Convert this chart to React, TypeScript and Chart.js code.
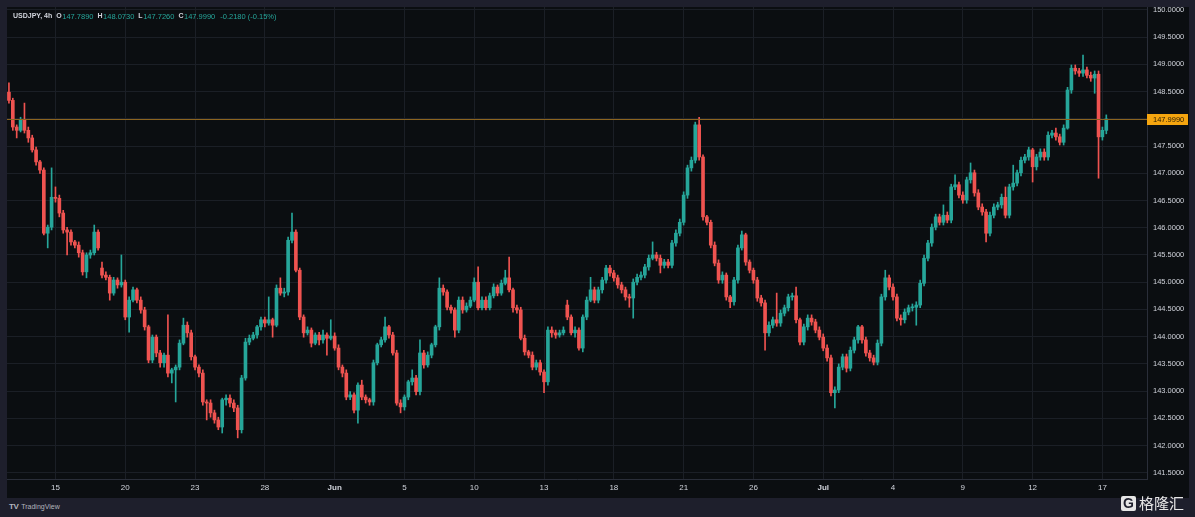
import React, { useEffect, useRef } from 'react';
import { Chart, registerables } from 'chart.js';

Chart.register(...registerables);

// ---- Data (USDJPY, 4h candles) ----
const OPEN = [
  148.49,148.34,147.85,147.79,147.98,147.79,147.65,147.43,147.21,147.06,
  145.90,146.01,146.56,146.54,146.27,145.96,145.92,145.74,145.68,145.54,
  145.19,145.50,145.54,145.92,145.26,145.13,145.09,144.80,145.04,144.95,
  145.00,144.36,144.67,144.86,144.67,144.49,144.18,143.57,143.99,143.70,
  143.52,143.66,143.33,143.39,143.44,143.88,144.21,144.07,143.63,143.44,
  143.33,142.80,142.78,142.60,142.47,142.34,142.84,142.87,142.78,142.69,
  142.29,143.24,143.90,143.97,144.03,144.18,144.31,144.25,144.31,144.21,
  144.89,144.80,144.82,145.77,145.92,145.22,144.36,144.07,144.12,143.88,
  144.03,143.94,144.03,143.97,144.01,143.79,143.44,143.33,142.89,142.93,
  142.65,143.11,142.89,142.84,142.80,143.52,143.85,143.94,144.18,144.03,
  143.70,142.78,142.71,142.89,143.17,143.24,142.99,143.70,143.48,143.66,
  143.85,144.18,144.89,144.82,144.54,144.49,144.12,144.67,144.49,144.56,
  144.67,145.00,144.53,144.67,144.53,144.75,144.91,144.80,144.98,145.08,
  144.86,144.53,144.49,143.97,143.72,143.66,143.44,143.52,143.35,143.17,
  144.12,144.07,144.03,144.07,144.58,144.36,144.07,144.12,143.79,144.36,
  144.67,144.86,144.67,144.86,145.04,145.26,145.17,145.08,144.95,144.86,
  144.73,144.71,145.00,145.09,145.13,145.28,145.44,145.50,145.44,145.31,
  145.37,145.31,145.72,145.90,146.10,146.60,147.10,147.24,147.89,147.30,
  146.20,146.10,145.68,145.35,145.04,145.13,144.73,144.64,145.04,145.63,
  145.87,145.37,145.22,145.04,144.71,144.62,144.07,144.21,144.31,144.25,
  144.43,144.53,144.73,144.75,144.31,143.90,144.18,144.34,144.27,144.12,
  143.99,143.79,143.61,142.97,143.02,143.44,143.63,143.42,143.75,143.94,
  144.18,143.94,143.70,143.61,143.53,143.88,144.73,145.08,144.91,144.73,
  144.34,144.31,144.45,144.53,144.54,144.58,144.98,145.44,145.72,146.01,
  146.20,146.10,146.23,146.14,146.75,146.79,146.60,146.51,146.88,147.01,
  146.64,146.38,146.29,145.90,146.23,146.38,146.42,146.56,146.23,146.75,
  146.82,147.01,147.24,147.30,147.43,147.12,147.30,147.39,147.30,147.70,
  147.74,147.67,147.57,147.83,148.53,148.93,148.88,148.84,148.90,148.80,
  148.75,148.82,147.67,147.789,
];

const HIGH = [
  148.66,148.38,147.89,148.03,148.29,147.85,147.70,147.48,147.24,147.10,
  146.05,147.10,146.75,146.60,146.32,146.01,145.96,145.77,145.74,145.59,
  145.54,145.59,146.05,145.96,145.37,145.19,145.13,145.09,145.08,145.50,
  145.04,144.73,144.91,144.89,144.73,144.54,144.21,144.03,144.03,143.75,
  143.70,144.40,143.42,143.48,143.94,144.34,144.27,144.12,143.66,143.48,
  143.39,142.84,142.84,142.65,142.52,142.87,142.93,142.93,142.84,142.74,
  143.29,143.97,144.03,144.08,144.21,144.36,144.36,144.73,144.34,144.95,
  145.08,144.89,145.83,146.27,145.96,145.26,144.40,144.18,144.16,144.07,
  144.08,144.12,144.07,144.31,144.07,143.85,143.48,143.39,142.99,142.97,
  143.15,143.20,142.93,142.87,143.57,143.88,143.99,144.36,144.21,144.08,
  143.75,142.84,142.93,143.20,143.39,143.29,143.94,143.75,143.72,143.88,
  144.21,145.08,144.95,144.86,144.58,144.53,144.73,144.73,144.62,144.73,
  145.08,145.28,144.73,144.73,144.80,144.97,144.95,145.04,145.22,145.46,
  144.89,144.58,144.54,144.03,143.75,143.72,143.57,143.57,143.39,144.18,
  144.18,144.12,144.12,144.18,144.67,144.40,144.18,144.16,144.40,144.73,
  145.09,144.91,144.91,145.09,145.31,145.31,145.22,145.13,145.00,144.91,
  144.78,145.06,145.15,145.19,145.33,145.50,145.74,145.55,145.50,145.42,
  145.42,145.77,145.96,146.16,146.66,147.15,147.30,147.94,148.03,147.34,
  146.23,146.14,145.74,145.41,145.19,145.17,144.76,145.09,145.68,145.94,
  145.90,145.41,145.26,145.09,144.76,144.67,144.27,144.36,144.80,144.49,
  144.58,144.78,144.80,144.91,144.34,144.23,144.40,144.40,144.32,144.18,
  144.05,143.85,143.66,143.08,143.50,143.68,143.68,143.81,143.99,144.21,
  144.21,143.99,143.75,143.66,143.94,144.78,145.22,145.13,144.97,144.78,
  144.40,144.51,144.58,144.60,144.64,145.04,145.50,145.77,146.07,146.25,
  146.25,146.42,146.29,146.80,146.97,146.84,146.66,146.93,147.19,147.06,
  146.70,146.44,146.34,146.29,146.44,146.47,146.62,146.75,146.80,147.15,
  147.06,147.30,147.35,147.48,147.46,147.35,147.45,147.45,147.76,147.79,
  147.83,147.72,147.89,148.58,148.99,148.99,148.93,149.17,148.95,148.86,
  148.88,148.88,147.85,148.073,
];

const LOW = [
  148.29,147.79,147.65,147.76,147.74,147.57,147.39,147.15,147.00,145.87,
  145.63,145.96,146.47,146.20,145.90,145.50,145.68,145.63,145.46,145.13,
  145.08,145.44,145.50,145.59,145.08,145.04,144.67,144.76,144.89,144.91,
  144.31,144.08,144.64,144.62,144.43,144.12,143.52,143.52,143.63,143.44,
  143.44,143.26,143.15,142.80,143.39,143.85,143.99,143.57,143.39,143.26,
  142.74,142.47,142.52,142.41,142.29,142.23,142.74,142.71,142.62,142.14,
  142.23,143.20,143.85,143.94,143.97,144.12,144.18,144.21,143.99,144.18,
  144.76,144.73,144.76,145.72,145.19,144.31,143.99,144.03,143.81,143.85,
  143.85,143.88,143.66,143.94,143.75,143.39,143.26,142.84,142.84,142.60,
  142.41,142.84,142.78,142.74,142.74,143.48,143.81,143.90,143.97,143.66,
  142.74,142.60,142.65,142.84,143.11,142.93,142.93,143.42,143.44,143.61,
  143.81,144.12,144.76,144.49,144.43,143.99,144.07,144.43,144.45,144.53,
  144.64,144.49,144.49,144.49,144.49,144.71,144.75,144.76,144.95,144.82,
  144.45,144.43,143.94,143.66,143.61,143.39,143.39,143.29,142.97,143.11,
  143.99,143.97,143.99,144.03,144.31,144.03,143.99,143.75,143.72,144.31,
  144.64,144.62,144.62,144.80,144.98,145.11,145.02,144.89,144.80,144.67,
  144.54,144.34,144.95,145.04,145.08,145.22,145.41,145.39,145.17,145.26,
  145.26,145.26,145.66,145.85,146.05,146.54,147.04,147.19,147.24,146.14,
  146.05,145.63,145.30,144.98,144.98,144.67,144.53,144.58,144.98,145.59,
  145.31,145.17,144.98,144.65,144.56,143.75,144.01,144.16,144.19,144.19,
  144.38,144.47,144.67,144.25,143.85,143.85,144.12,144.21,144.07,143.94,
  143.74,143.55,142.91,142.69,142.97,143.39,143.35,143.37,143.70,143.88,
  143.88,143.64,143.55,143.48,143.48,143.83,144.67,144.86,144.67,144.29,
  144.21,144.25,144.40,144.47,144.21,144.53,144.93,145.39,145.66,145.96,
  146.05,146.05,146.09,146.09,146.70,146.55,146.45,146.45,146.82,146.58,
  146.33,146.23,145.74,145.85,146.18,146.33,146.36,146.18,146.18,146.69,
  146.77,146.95,147.19,147.24,146.84,147.06,147.24,147.24,147.24,147.65,
  147.61,147.52,147.52,147.81,148.47,148.82,148.78,148.78,148.75,148.69,
  148.47,146.91,147.61,147.726,
];

const CLOSE = [
  148.34,147.85,147.79,147.98,147.79,147.65,147.43,147.21,147.06,145.90,
  146.01,146.56,146.54,146.27,145.96,145.92,145.74,145.68,145.54,145.19,
  145.50,145.54,145.92,145.63,145.13,145.09,144.80,145.04,144.95,145.00,
  144.36,144.67,144.86,144.67,144.49,144.18,143.57,143.99,143.70,143.52,
  143.66,143.33,143.39,143.44,143.88,144.21,144.07,143.63,143.44,143.33,
  142.80,142.78,142.60,142.47,142.34,142.84,142.87,142.78,142.69,142.29,
  143.24,143.90,143.97,144.03,144.18,144.31,144.25,144.31,144.21,144.89,
  144.80,144.82,145.77,145.92,145.22,144.36,144.07,144.12,143.88,144.03,
  143.94,144.03,143.97,144.01,143.79,143.44,143.33,142.89,142.93,142.65,
  143.11,142.89,142.84,142.80,143.52,143.85,143.94,144.18,144.03,143.70,
  142.78,142.71,142.89,143.17,143.24,142.99,143.70,143.48,143.66,143.85,
  144.18,144.89,144.82,144.54,144.49,144.12,144.67,144.49,144.56,144.67,
  145.00,144.53,144.67,144.53,144.75,144.91,144.80,144.98,145.08,144.86,
  144.53,144.49,143.97,143.72,143.66,143.44,143.52,143.35,143.17,144.12,
  144.07,144.03,144.07,144.12,144.36,144.07,144.12,143.79,144.36,144.67,
  144.86,144.67,144.86,145.04,145.26,145.17,145.08,144.95,144.86,144.73,
  144.71,145.00,145.09,145.13,145.28,145.44,145.50,145.44,145.31,145.37,
  145.31,145.72,145.90,146.10,146.60,147.10,147.24,147.89,147.30,146.20,
  146.10,145.68,145.35,145.04,145.13,144.73,144.64,145.04,145.63,145.87,
  145.37,145.22,145.04,144.71,144.62,144.07,144.21,144.31,144.25,144.43,
  144.53,144.73,144.75,144.31,143.90,144.18,144.34,144.27,144.12,143.99,
  143.79,143.61,142.97,143.02,143.44,143.63,143.42,143.75,143.94,144.18,
  143.94,143.70,143.61,143.53,143.88,144.73,145.08,144.91,144.73,144.34,
  144.31,144.45,144.53,144.54,144.58,144.98,145.44,145.72,146.01,146.20,
  146.10,146.23,146.14,146.75,146.79,146.60,146.51,146.88,147.01,146.64,
  146.38,146.29,145.90,146.23,146.38,146.42,146.56,146.23,146.75,146.82,
  147.01,147.24,147.30,147.43,147.12,147.30,147.39,147.30,147.70,147.74,
  147.67,147.57,147.83,148.53,148.93,148.88,148.84,148.90,148.80,148.75,
  148.82,147.67,147.79,147.999,
];

// Time-axis labels: candle index -> text
const X_LABEL_INDEX = [12, 30, 48, 66, 84, 102, 120, 138, 156, 174, 192, 210, 228, 246, 264, 282];
const X_LABEL_TEXT = ['15', '20', '23', '28', 'Jun', '5', '10', '13', '18', '21', '26', 'Jul', '4', '9', '12', '17'];
const MONTH_LABELS = ['Jun', 'Jul'];

const PRICE_TICKS = [141.5, 142, 142.5, 143, 143.5, 144, 144.5, 145, 145.5, 146, 146.5, 147, 147.5, 148, 148.5, 149, 149.5, 150];
const Y_MIN = 141.385;
const Y_MAX = 150.055;
const LAST_PRICE = 147.999;
const RIGHT_EMPTY_SLOTS = 10;

const LEGEND_SYMBOL = 'USDJPY, 4h';
const LEGEND_ITEMS = [
  { key: 'O', value: '147.7890' },
  { key: 'H', value: '148.0730' },
  { key: 'L', value: '147.7260' },
  { key: 'C', value: '147.9990' },
];
const LEGEND_CHANGE = '-0.2180 (-0.15%)';

// ---- Styles ----
const UP = '#26a69a';
const DOWN = '#ef5350';
const BG = '#0b0e11';
const FRAME = '#1e1f2c';
const GRID = '#1b1f26';
const AXIS_LINE = '#2a2e39';
const TEXT = '#d1d4dc';
const PRICE_LINE = '#8c6420';
const FONT = '"Liberation Sans", Arial, sans-serif';

export default function App() {
  const ref = useRef<HTMLCanvasElement | null>(null);

  useEffect(() => {
    document.body.style.margin = '0';
    const canvas = ref.current;
    if (!canvas) return;
    const n = CLOSE.length;
    const labels = Array.from({ length: n + RIGHT_EMPTY_SLOTS }, (_, i) => String(i));
    const colors = CLOSE.map((c, i) => (c >= OPEN[i] ? UP : DOWN));
    const bodies = CLOSE.map((c, i) => [Math.min(OPEN[i], c), Math.max(OPEN[i], c)]);
    const wicks = CLOSE.map((_, i) => [LOW[i], HIGH[i]]);
    const labelMap = new Map<number, string>();
    X_LABEL_INDEX.forEach((k, j) => labelMap.set(k, X_LABEL_TEXT[j]));

    const zeroPad = (s: any) => {
      s.paddingTop = 0;
      s.paddingBottom = 0;
      s.paddingLeft = 0;
      s.paddingRight = 0;
    };

    const bgPlugin = {
      id: 'bgFill',
      beforeDraw(chart: any) {
        const { ctx, width, height } = chart;
        ctx.save();
        ctx.fillStyle = BG;
        ctx.fillRect(0, 0, width, height);
        ctx.restore();
      },
    };

    const overlayPlugin = {
      id: 'overlay',
      afterDatasetsDraw(chart: any) {
        const { ctx, chartArea, scales } = chart;
        const y = Math.round(scales.y.getPixelForValue(LAST_PRICE)) + 0.5;
        ctx.save();
        ctx.strokeStyle = PRICE_LINE;
        ctx.lineWidth = 1;
        ctx.beginPath();
        ctx.moveTo(chartArea.left, y);
        ctx.lineTo(chartArea.right, y);
        ctx.stroke();
        ctx.restore();
      },
      afterDraw(chart: any) {
        const { ctx, chartArea, scales, width } = chart;
        const y = Math.round(scales.y.getPixelForValue(LAST_PRICE));
        ctx.save();
        // last price label
        ctx.fillStyle = '#f5a50f';
        ctx.fillRect(chartArea.right, y - 5, width - chartArea.right - 1, 11);
        ctx.fillStyle = '#2a1c04';
        ctx.font = `7.5px ${FONT}`;
        ctx.textBaseline = 'middle';
        ctx.textAlign = 'left';
        ctx.fillText(LAST_PRICE.toFixed(4), chartArea.right + 6, y + 0.5);

        // legend (flowing text)
        const ly = 9.5;
        let x = 6;
        ctx.font = `bold 7px ${FONT}`;
        ctx.fillStyle = TEXT;
        ctx.fillText(LEGEND_SYMBOL, x, ly);
        x += ctx.measureText(LEGEND_SYMBOL).width + 4;
        LEGEND_ITEMS.forEach((it) => {
          ctx.font = `bold 7px ${FONT}`;
          ctx.fillStyle = TEXT;
          ctx.fillText(it.key, x, ly);
          x += ctx.measureText(it.key).width + 0.5;
          ctx.font = `7.5px ${FONT}`;
          ctx.fillStyle = UP;
          ctx.fillText(it.value, x, ly);
          x += ctx.measureText(it.value).width + 4;
        });
        ctx.font = `7.5px ${FONT}`;
        ctx.fillStyle = UP;
        ctx.fillText(LEGEND_CHANGE, x + 1, ly);
        ctx.restore();
      },
    };

    const chart = new Chart(canvas, {
      type: 'bar',
      data: {
        labels,
        datasets: [
          {
            data: bodies as any,
            backgroundColor: colors,
            borderWidth: 0,
            barThickness: 3,
            minBarLength: 1,
            grouped: false,
          } as any,
          {
            data: wicks as any,
            backgroundColor: colors,
            borderWidth: 0,
            barThickness: 1,
            grouped: false,
          } as any,
        ],
      },
      options: {
        animation: false,
        responsive: false,
        maintainAspectRatio: false,
        events: [],
        layout: { padding: 0 },
        plugins: { legend: { display: false }, tooltip: { enabled: false } },
        scales: {
          x: {
            type: 'category',
            offset: true,
            grid: {
              offset: false,
              drawTicks: false,
              color: (c: any) => (labelMap.has(c.index) ? GRID : 'rgba(0,0,0,0)'),
            },
            border: { color: AXIS_LINE },
            ticks: {
              autoSkip: false,
              maxRotation: 0,
              minRotation: 0,
              padding: 4,
              color: TEXT,
              font: (c: any) => ({
                size: 8,
                family: FONT,
                weight: MONTH_LABELS.includes(labelMap.get(c.index) || '') ? 'bold' : 'normal',
              }),
              callback: (_v: any, i: number) => labelMap.get(i) ?? '',
            },
            afterFit: (s: any) => {
              s.height = 19;
              zeroPad(s);
            },
          },
          y: {
            position: 'right',
            min: Y_MIN,
            max: Y_MAX,
            afterBuildTicks: (s: any) => {
              s.ticks = PRICE_TICKS.map((v) => ({ value: v }));
            },
            grid: { color: GRID, drawTicks: false },
            border: { color: AXIS_LINE },
            ticks: {
              color: TEXT,
              padding: 6,
              font: { size: 7.5, family: FONT },
              callback: (v: any) => Number(v).toFixed(4),
            },
            afterFit: (s: any) => {
              s.width = 42;
              zeroPad(s);
            },
          },
        },
      } as any,
      plugins: [bgPlugin, overlayPlugin],
    });
    return () => chart.destroy();
  }, []);

  return (
    <div style={{ position: 'relative', width: 1195, height: 517, background: FRAME, overflow: 'hidden' }}>
      <canvas
        ref={ref}
        width={1182}
        height={491}
        style={{ position: 'absolute', left: 7, top: 7, width: 1182, height: 491 }}
      />
      <div
        style={{
          position: 'absolute',
          left: 9,
          top: 502,
          display: 'flex',
          alignItems: 'center',
          gap: 3,
          fontFamily: FONT,
          color: '#b2b5be',
        }}
      >
        <span style={{ fontSize: 8, fontWeight: 900, letterSpacing: -0.5 }}>TV</span>
        <span style={{ fontSize: 7 }}>TradingView</span>
      </div>
      <div
        style={{
          position: 'absolute',
          left: 1121,
          top: 494,
          display: 'flex',
          alignItems: 'center',
          gap: 3,
          color: '#e6e6e6',
        }}
      >
        <span
          style={{
            width: 15,
            height: 15,
            background: '#e6e6e6',
            color: FRAME,
            borderRadius: 2,
            fontFamily: FONT,
            fontWeight: 900,
            fontSize: 14,
            lineHeight: '15px',
            textAlign: 'center',
            display: 'inline-block',
          }}
        >
          G
        </span>
        <span style={{ fontFamily: '"Noto Sans CJK SC", sans-serif', fontSize: 15, lineHeight: '18px' }}>格隆汇</span>
      </div>
    </div>
  );
}
